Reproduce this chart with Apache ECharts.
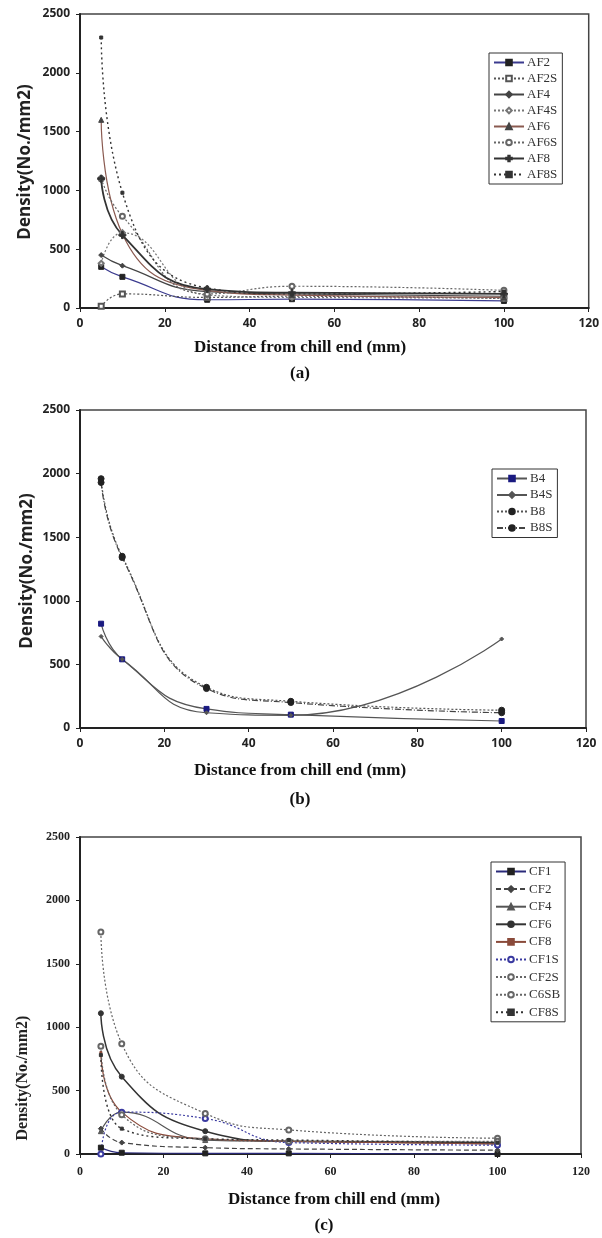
<!DOCTYPE html>
<html>
<head>
<meta charset="utf-8">
<script src="https://cdn.jsdelivr.net/npm/echarts@6/dist/echarts.min.js"></script>
<style>
  html, body { margin: 0; padding: 0; background: #fff; }
  #chart { width: 602px; height: 1238px; }
</style>
</head>
<body>
<div id="chart"></div>
<script>
// distances from chill end (mm), shared by all three panels
const distances = [5, 10, 30, 50, 100];
const yTicks = [0, 2500, 500];   // min, max, step
const xTicks = [0, 120, 20];

// (a)
const af2  = [350, 265, 70, 75, 60];
const af2s = [15, 120, 90, 100, 80];
const af4  = [450, 360, 140, 120, 100];
const af4s = [380, 640, 110, 90, 85];
const af6  = [1600, 630, 150, 110, 90];
const af6s = [1100, 780, 120, 185, 150];
const af8  = [1100, 620, 160, 130, 120];
const af8s = [2300, 980, 170, 120, 140];

// (b)
const b4  = [820, 540, 150, 105, 55];
const b4s = [720, 540, 120, 100, 700];
const b8  = [1960, 1350, 320, 210, 140];
const b8s = [1930, 1340, 310, 200, 120];

// (c)
const cf1  = [50, 10, 5, 5, 0];
const cf2  = [200, 90, 50, 40, 30];
const cf4  = [180, 330, 110, 100, 80];
const cf6  = [1110, 610, 180, 100, 90];
const cf8  = [800, 330, 120, 100, 80];
const cf1s = [0, 330, 280, 90, 70];
const cf2s = [1750, 870, 320, 190, 125];
const c6sb = [850, 310, 120, 100, 100];
const cf8s = [780, 200, 120, 110, 90];

const PLUS = 'path://M3,0H5V3H8V5H5V8H3V5H0V3H3Z';
const SERIF = '"Liberation Serif", "DejaVu Serif", serif';
const SANS = '"Open Sans", "DejaVu Sans", sans-serif';

function pts(vals) {
  return distances.map((d, i) => [d, vals[i]]);
}

function line(name, vals, idx, o) {
  return {
    name: name,
    type: 'line',
    xAxisIndex: idx,
    yAxisIndex: idx,
    data: pts(vals),
    smooth: 0.5,
    symbol: o.symbol,
    symbolSize: o.size || 5,
    showSymbol: true,
    lineStyle: { color: o.color, width: o.width || 1.2, type: o.type || 'solid' },
    itemStyle: { color: o.mcolor || o.color, borderColor: o.mcolor || o.color, borderWidth: 1 },
    emphasis: { disabled: true },
    z: o.z || 2
  };
}

function xAxis(idx, labelFont, margin) {
  return {
    type: 'value', gridIndex: idx,
    min: xTicks[0], max: xTicks[1], interval: xTicks[2],
    axisLine: { show: true, lineStyle: { color: '#222', width: 2 } },
    axisTick: { show: true, inside: false, length: 4, lineStyle: { color: '#222' } },
    axisLabel: { color: '#222', fontWeight: 'bold', fontSize: 12, fontFamily: labelFont, margin: margin,
                 formatter: v => String(v) },
    splitLine: { show: false }
  };
}

function yAxis(idx, labelFont) {
  return {
    type: 'value', gridIndex: idx,
    min: yTicks[0], max: yTicks[1], interval: yTicks[2],
    axisLine: { show: true, lineStyle: { color: '#222', width: 2 } },
    axisTick: { show: true, inside: false, length: 4, lineStyle: { color: '#222' } },
    axisLabel: { color: '#222', fontWeight: 'bold', fontSize: 12, fontFamily: labelFont, margin: 10,
                 formatter: v => String(v) },
    splitLine: { show: false }
  };
}

function legend(names, left, top, gap) {
  return {
    data: names,
    orient: 'vertical',
    left: left, top: top,
    itemWidth: 30, itemHeight: 7, itemGap: gap,
    padding: [3, 5, 3, 4],
    borderColor: '#333', borderWidth: 1,
    backgroundColor: '#fff',
    selectedMode: false,
    textStyle: { fontFamily: SERIF, fontSize: 13, color: '#333', padding: [0, 0, 0, -2] }
  };
}

function caption(text, x, y, size, font) {
  return {
    type: 'text', x: x, y: y,
    style: { text: text, font: 'bold ' + size + 'px ' + (font || SERIF), fill: '#111', textAlign: 'center', textVerticalAlign: 'middle' }
  };
}

function yTitle(x, y, size, font) {
  return {
    type: 'text', x: x, y: y, rotation: Math.PI / 2,
    style: { text: 'Density(No./mm2)', font: 'bold ' + size + 'px ' + font, fill: '#222', textAlign: 'center', textVerticalAlign: 'middle' }
  };
}

const namesA = ['AF2', 'AF2S', 'AF4', 'AF4S', 'AF6', 'AF6S', 'AF8', 'AF8S'];
const namesB = ['B4', 'B4S', 'B8', 'B8S'];
const namesC = ['CF1', 'CF2', 'CF4', 'CF6', 'CF8', 'CF1S', 'CF2S', 'C6SB', 'CF8S'];

const chart = echarts.init(document.getElementById('chart'), null, { renderer: 'canvas' });

chart.setOption({
  animation: false,
  backgroundColor: '#fff',
  grid: [
    { left: 80, top: 14, width: 512, height: 294, show: true, borderColor: '#444', borderWidth: 1.5, backgroundColor: '#fff' },
    { left: 80, top: 410, width: 506, height: 318, show: true, borderColor: '#444', borderWidth: 1.5, backgroundColor: '#fff' },
    { left: 80, top: 837, width: 501, height: 317, show: true, borderColor: '#444', borderWidth: 1.5, backgroundColor: '#fff' }
  ],
  xAxis: [xAxis(0, SANS, 10), xAxis(1, SANS, 10), xAxis(2, SERIF, 12)],
  yAxis: [yAxis(0, SANS), yAxis(1, SANS), yAxis(2, SERIF)],
  legend: [
    legend(namesA, 489, 53, 3),
    legend(namesB, 492, 469, 3.5),
    legend(namesC, 491, 862, 4.6)
  ],
  graphic: [
    yTitle(25, 162, 17, SANS),
    yTitle(27, 571, 17, SANS),
    yTitle(23, 1078, 16, SERIF),
    caption('Distance from chill end (mm)', 300, 348, 17),
    caption('(a)', 300, 374, 17),
    caption('Distance from chill end (mm)', 300, 771, 17),
    caption('(b)', 300, 800, 17),
    caption('Distance from chill end (mm)', 334, 1200, 17),
    caption('(c)', 324, 1226, 17)
  ],
  series: [
    line('AF2', af2, 0, { color: '#3b3b8f', symbol: 'rect', mcolor: '#222' }),
    line('AF2S', af2s, 0, { color: '#555', type: [2, 2], symbol: 'emptyRect' }),
    line('AF4', af4, 0, { color: '#444', symbol: 'diamond', size: 5 }),
    line('AF4S', af4s, 0, { color: '#777', type: [2, 2], symbol: 'emptyDiamond' }),
    line('AF6', af6, 0, { color: '#8a5a50', symbol: 'triangle', mcolor: '#444' }),
    line('AF6S', af6s, 0, { color: '#666', type: [2, 2], symbol: 'emptyCircle' }),
    line('AF8', af8, 0, { color: '#333', width: 1.8, symbol: PLUS, size: 7 }),
    line('AF8S', af8s, 0, { color: '#333', width: 1.4, type: [2, 3], symbol: 'rect', size: 3 }),

    line('B4', b4, 1, { color: '#555', symbol: 'rect', mcolor: '#1a1a80' }),
    line('B4S', b4s, 1, { color: '#555', symbol: 'diamond', size: 4 }),
    line('B8', b8, 1, { color: '#555', type: [2, 2], symbol: 'circle', size: 6, mcolor: '#222' }),
    line('B8S', b8s, 1, { color: '#444', type: [6, 2, 1, 2], symbol: 'circle', size: 6, mcolor: '#222' }),

    line('CF1', cf1, 2, { color: '#2a2a7a', symbol: 'rect', mcolor: '#222' }),
    line('CF2', cf2, 2, { color: '#444', type: [5, 3], symbol: 'diamond', size: 5 }),
    line('CF4', cf4, 2, { color: '#555', symbol: 'triangle' }),
    line('CF6', cf6, 2, { color: '#333', width: 1.5, symbol: 'circle' }),
    line('CF8', cf8, 2, { color: '#8a4a3a', symbol: 'rect', size: 2 }),
    line('CF1S', cf1s, 2, { color: '#3a3aa0', type: [2, 2], symbol: 'emptyCircle' }),
    line('CF2S', cf2s, 2, { color: '#666', type: [2, 2], symbol: 'emptyCircle' }),
    line('C6SB', c6sb, 2, { color: '#666', type: [2, 2], symbol: 'emptyCircle' }),
    line('CF8S', cf8s, 2, { color: '#333', width: 1.4, type: [2, 3], symbol: 'rect', size: 3 })
  ]
});
</script>
</body>
</html>
